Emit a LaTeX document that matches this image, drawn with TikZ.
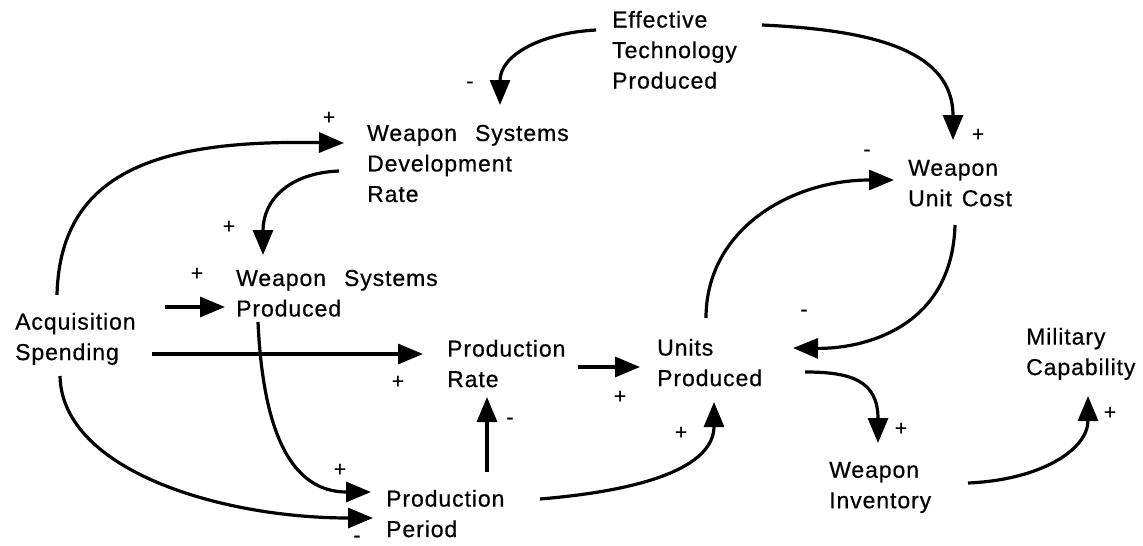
\documentclass[tikz,border=0pt]{standalone}
\usepackage{fontspec}
\setmainfont{Liberation Sans}[LetterSpace=4,FakeBold=0.6]
\usetikzlibrary{arrows.meta,calc}
\begin{document}
\begin{tikzpicture}[x=1pt,y=-1pt,
  concept/.style={font=\fontsize{23}{30.5}\selectfont, align=left, inner sep=0pt, anchor=north west},
  link/.style={line width=3.2pt, -{Triangle[length=25pt,width=20pt]}},
  sign/.style={font=\fontsize{21}{21}\selectfont, inner sep=0pt}]
\fill[white] (0,0) rectangle (1143,546);
\useasboundingbox (0,0) rectangle (1143,546);
% concepts
\node[concept] (ETP)  at (612,10.7)  {Effective\\Technology\\Produced};
\node[concept] (WSDR) at (367,124.7) {Weapon\hspace{18pt}Systems\\Development\\Rate};
\node[concept] (WUC)  at (908,159.7) {Weapon\\Unit\hspace{10pt}Cost};
\node[concept] (WSP)  at (236,269.7) {Weapon\hspace{18pt}Systems\\Produced};
\node[concept] (AS)   at (15,312.7)  {Acquisition\\Spending};
\node[concept] (PR)   at (447,339.7) {Production\\Rate};
\node[concept] (UP)   at (657,338.7) {Units\\Produced};
\node[concept] (MC)   at (1026,327.7) {Military\\Capability};
\node[concept] (WI)   at (829,461.7) {Weapon\\Inventory};
\node[concept] (PP)   at (386,489.7) {Production\\Period};
% connectors
\draw[link] ($(ETP.north west)+(-16,19.3)$) .. controls +(-55,3) and +(0,-50) .. ($(WSDR.north west)+(133,-19.7)$);
\draw[link] ($(ETP.north west)+(150,14.3)$) .. controls +(110,5) and +(0,-90) .. ($(WUC.north west)+(45,-19.7)$);
\draw[link] ($(WSDR.north west)+(-28,46.3)$) .. controls +(-50,2) and +(0,-55) .. ($(WSP.north west)+(27,-14.7)$);
\draw[link] ($(AS.north west)+(42,-17.7)$) .. controls +(3,-130) and +(-174,-3) .. ($(WSDR.north west)+(-23,18.3)$);
\draw[link] ($(AS.north west)+(150,-5.7)$) -- ($(WSP.north west)+(-11,37.3)$);
\draw[link] ($(AS.north west)+(137,41.3)$) -- ($(PR.north west)+(-24,14.3)$);
\draw[link] ($(WSP.north west)+(22,52.3)$) .. controls +(5,110) and +(-80,0) .. ($(PP.north west)+(-15,2.3)$);
\draw[link] ($(AS.north west)+(45,63.3)$) .. controls +(2,94) and +(-153,0) .. ($(PP.north west)+(-13,28.3)$);
\draw[link] ($(PP.north west)+(101,-17.7)$) -- ($(PR.north west)+(40,57.3)$);
\draw[link] ($(PR.north west)+(131,27.3)$) -- ($(UP.north west)+(-17,28.3)$);
\draw[link] ($(PP.north west)+(154,9.3)$) .. controls +(120,-10) and +(0,60) .. ($(UP.north west)+(57,63.3)$);
\draw[link] ($(UP.north west)+(49,-20.7)$) .. controls +(0,-88) and +(-104,0) .. ($(WUC.north west)+(-14,20.3)$);
\draw[link] ($(WUC.north west)+(47,65.3)$) .. controls +(-3,105) and +(67,1) .. ($(UP.north west)+(136,9.3)$);
\draw[link] ($(UP.north west)+(148,33.3)$) .. controls +(45,0) and +(0,-63) .. ($(WI.north west)+(49,-18.7)$);
\draw[link] ($(WI.north west)+(139,21.3)$) .. controls +(72,-3) and +(0,54) .. ($(MC.north west)+(62,68.3)$);
% polarity signs
\node[sign] (s1)  at (329,118) {+};
\node[sign] (s2)  at (470,85)  {-};
\node[sign] (s3)  at (229,227) {+};
\node[sign] (s4)  at (197,274) {+};
\node[sign] (s5)  at (398,382) {+};
\node[sign] (s6)  at (510,421) {-};
\node[sign] (s7)  at (340,470) {+};
\node[sign] (s8)  at (620,397) {+};
\node[sign] (s9)  at (681,433) {+};
\node[sign] (s10) at (867,153) {-};
\node[sign] (s11) at (978,135) {+};
\node[sign] (s12) at (804,313) {-};
\node[sign] (s13) at (901,429) {+};
\node[sign] (s14) at (1110,413) {+};
\node[sign] (s15) at (357,539) {-};
\end{tikzpicture}
\end{document}
